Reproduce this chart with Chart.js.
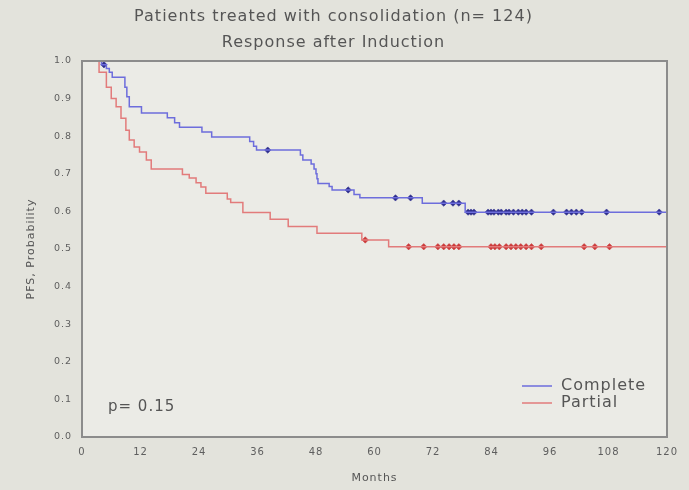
<!DOCTYPE html>
<html>
<head>
<meta charset="utf-8">
<script src="https://cdn.jsdelivr.net/npm/chart.js@4"></script>
<style>
  html, body { margin: 0; padding: 0; background: #e3e3dc; }
  canvas { display: block; }
</style>
</head>
<body>
<canvas id="c" width="689" height="490"></canvas>
<script>
// ---- Data ----
const titleLines = ['Patients treated with consolidation (n= 124)', 'Response after Induction'];
const xTitle = 'Months';
const yTitle = 'PFS, Probability';
const seriesNames = ['Complete', 'Partial'];
const pValueText = 'p= 0.15';

// Kaplan-Meier steps: month at which the survival changes, and new survival value
const completeMonths = [0, 4.0, 5.0, 5.6, 6.2, 8.8, 9.2, 9.7, 12.2, 17.5, 19.0, 20.0, 24.6, 26.6, 34.4, 35.2, 35.8, 44.8, 45.3, 47.0, 47.6, 48.0, 48.2, 48.4, 50.7, 51.3, 55.8, 57.0, 69.8, 78.6, 120];
const completeProb   = [1.0, 0.99, 0.98, 0.97, 0.957, 0.93, 0.905, 0.878, 0.862, 0.849, 0.836, 0.824, 0.811, 0.798, 0.786, 0.773, 0.763, 0.750, 0.737, 0.726, 0.713, 0.700, 0.687, 0.674, 0.666, 0.657, 0.645, 0.636, 0.622, 0.598, 0.598];

const partialMonths = [0, 3.5, 5.0, 6.0, 7.0, 8.0, 9.0, 9.7, 10.7, 11.8, 13.2, 14.2, 20.6, 22.0, 23.4, 24.4, 25.4, 29.8, 30.5, 33.0, 38.6, 42.3, 48.2, 57.4, 62.9, 120];
const partialProb   = [1.0, 0.97, 0.93, 0.90, 0.878, 0.848, 0.816, 0.79, 0.771, 0.758, 0.737, 0.713, 0.698, 0.689, 0.676, 0.665, 0.648, 0.633, 0.624, 0.597, 0.579, 0.560, 0.542, 0.524, 0.506, 0.506];

// Censored observations (months)
const completeCensorMonths = [4.5, 38.1, 54.6, 64.3, 67.4, 74.2, 76.1, 77.3, 79.2, 79.8, 80.4, 83.3, 83.9, 84.5, 85.4, 86.0, 87.0, 87.6, 88.5, 89.5, 90.3, 91.1, 92.2, 96.7, 99.4, 100.4, 101.4, 102.5, 107.6, 118.4];
const partialCensorMonths  = [58.1, 67.0, 70.1, 73.0, 74.2, 75.3, 76.3, 77.3, 83.9, 84.7, 85.6, 87.0, 88.0, 89.0, 90.0, 91.1, 92.2, 94.2, 103.0, 105.2, 108.2];

// Tick values / labels
const xTickValues = [0, 12, 24, 36, 48, 60, 72, 84, 96, 108, 120];
const xTickLabels = ['0', '12', '24', '36', '48', '60', '72', '84', '96', '108', '120'];
const yTickValues = [0.0, 0.1, 0.2, 0.3, 0.4, 0.5, 0.6, 0.7, 0.8, 0.9, 1.0];
const yTickLabels = ['0.0', '0.1', '0.2', '0.3', '0.4', '0.5', '0.6', '0.7', '0.8', '0.9', '1.0'];

// ---- Build library structures ----
function toPoints(xs, ys) { return xs.map((x, i) => ({ x: x, y: ys[i] })); }
function kmValueAt(months, probs, t) {
  let v = probs[0];
  for (let i = 0; i < months.length; i++) { if (months[i] <= t) v = probs[i]; }
  return v;
}
function censorPoints(cm, months, probs) {
  return cm.map(t => ({ x: t, y: kmValueAt(months, probs, t) }));
}
function labelFor(values, labels, v) {
  const i = values.findIndex(t => Math.abs(t - v) < 1e-6);
  return i >= 0 ? labels[i] : '';
}

const COL_C_LINE = '#6d6ddc', COL_C_MARK = '#2e2e8e';
const COL_P_LINE = '#e27b7b', COL_P_MARK = '#cc3b3b';
const TEXT = '#555555';

const decorPlugin = {
  id: 'decor',
  beforeDraw(chart) {
    const { ctx, chartArea: a } = chart;
    ctx.save();
    ctx.fillStyle = '#e3e3dc';
    ctx.fillRect(0, 0, chart.width, chart.height);
    ctx.fillStyle = '#ebebe6';
    ctx.fillRect(a.left, a.top, a.right - a.left, a.bottom - a.top);
    ctx.restore();
    ctx.letterSpacing = '1px';
  },
  afterDraw(chart) {
    const { ctx, chartArea: a } = chart;
    ctx.save();
    ctx.letterSpacing = '1px';
    // frame
    ctx.strokeStyle = '#8c8c8c';
    ctx.lineWidth = 2;
    ctx.strokeRect(a.left, a.top, a.right - a.left, a.bottom - a.top);
    // legend
    const lx = a.right - 145, ly1 = a.bottom - 51, ly2 = a.bottom - 34;
    ctx.lineWidth = 1.5;
    ctx.strokeStyle = COL_C_LINE;
    ctx.beginPath(); ctx.moveTo(lx, ly1); ctx.lineTo(lx + 30, ly1); ctx.stroke();
    ctx.strokeStyle = COL_P_LINE;
    ctx.beginPath(); ctx.moveTo(lx, ly2); ctx.lineTo(lx + 30, ly2); ctx.stroke();
    ctx.fillStyle = TEXT;
    ctx.font = '16px "DejaVu Sans"';
    ctx.textBaseline = 'middle';
    ctx.textAlign = 'left';
    ctx.fillText(seriesNames[0], lx + 39, ly1);
    ctx.fillText(seriesNames[1], lx + 39, ly2);
    // p-value
    ctx.font = '15px "DejaVu Sans"';
    ctx.fillText(pValueText, a.left + 26, a.bottom - 30);
    ctx.restore();
  }
};

Chart.defaults.font.family = '"DejaVu Sans", sans-serif';
Chart.defaults.color = '#5e5e5e';

new Chart(document.getElementById('c'), {
  type: 'line',
  data: {
    datasets: [
      { label: seriesNames[0], data: toPoints(completeMonths, completeProb), stepped: 'before', borderColor: COL_C_LINE, borderWidth: 1.5, pointRadius: 0, fill: false },
      { label: seriesNames[1], data: toPoints(partialMonths, partialProb), stepped: 'before', borderColor: COL_P_LINE, borderWidth: 1.5, pointRadius: 0, fill: false },
      { label: 'cc', data: censorPoints(completeCensorMonths, completeMonths, completeProb), showLine: false, pointStyle: 'rectRot', pointRadius: 3.2, pointBackgroundColor: COL_C_MARK, pointBorderColor: COL_C_MARK, pointBorderWidth: 0.5 },
      { label: 'pc', data: censorPoints(partialCensorMonths, partialMonths, partialProb), showLine: false, pointStyle: 'rectRot', pointRadius: 3.2, pointBackgroundColor: COL_P_MARK, pointBorderColor: COL_P_MARK, pointBorderWidth: 0.5 }
    ]
  },
  options: {
    responsive: false,
    animation: false,
    devicePixelRatio: 1,
    layout: { padding: { top: 0, right: 22, left: 0, bottom: 0 } },
    plugins: {
      legend: { display: false },
      tooltip: { enabled: false },
      title: {
        display: true,
        text: titleLines,
        color: TEXT,
        font: { size: 16, weight: 'normal', lineHeight: 1.625 },
        padding: { top: 4, bottom: 5 }
      }
    },
    scales: {
      x: {
        type: 'linear', min: 0, max: 120,
        afterBuildTicks(s) { s.ticks = xTickValues.map(v => ({ value: v })); },
        ticks: { padding: 9, font: { size: 10 }, maxRotation: 0, autoSkip: false, callback: v => labelFor(xTickValues, xTickLabels, v) },
        grid: { display: false, drawTicks: false },
        border: { display: false },
        title: { display: true, text: xTitle, color: TEXT, font: { size: 11 }, padding: { top: 0, bottom: 5 } },
        afterFit(s) { s.height = 53; }
      },
      y: {
        type: 'linear', min: 0, max: 1,
        afterBuildTicks(s) { s.ticks = yTickValues.map(v => ({ value: v })); },
        ticks: { padding: 10, font: { size: 9.5 }, autoSkip: false, callback: v => labelFor(yTickValues, yTickLabels, v) },
        grid: { display: false, drawTicks: false },
        border: { display: false },
        title: { display: true, text: yTitle, color: TEXT, font: { size: 11 }, padding: { top: 25, bottom: 0 } },
        afterFit(s) { s.width = 82; }
      }
    }
  },
  plugins: [decorPlugin]
});
</script>
</body>
</html>
